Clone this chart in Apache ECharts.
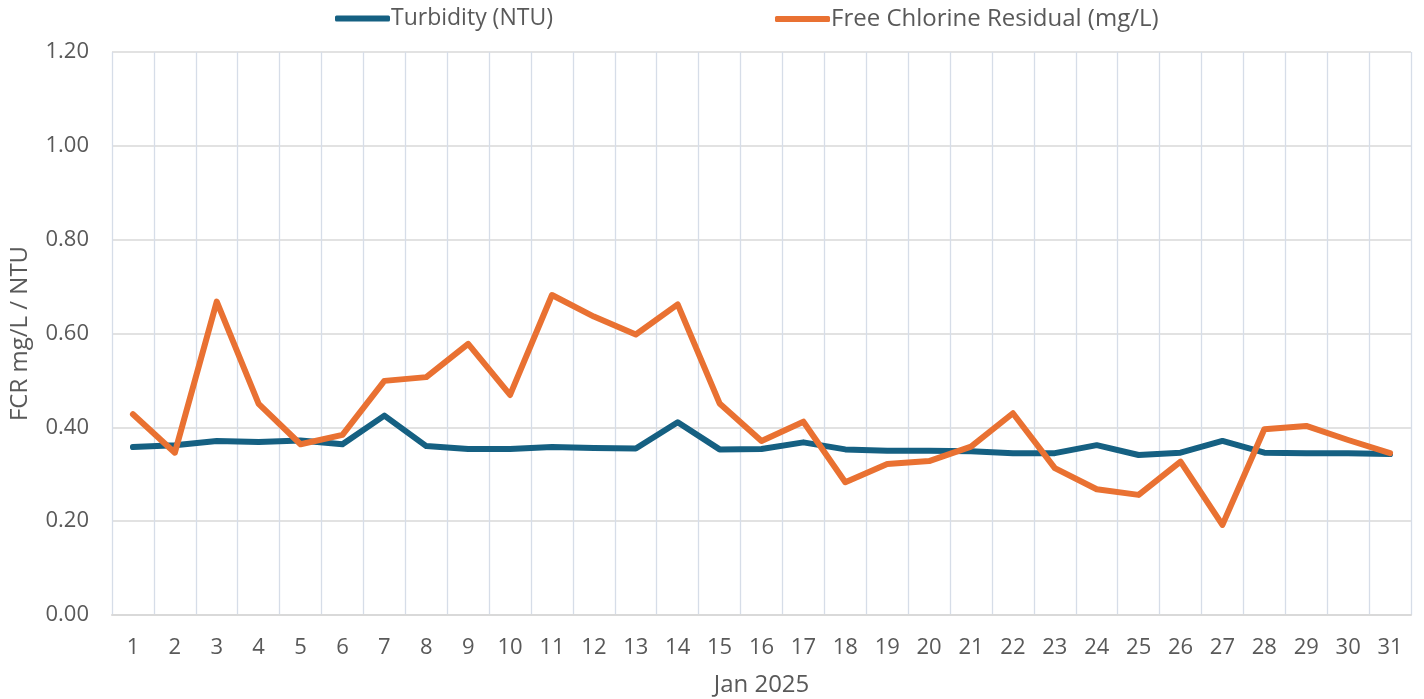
<!DOCTYPE html>
<html>
<head>
<meta charset="utf-8">
<script src="https://cdn.jsdelivr.net/npm/echarts@6/dist/echarts.min.js"></script>
<style>
html,body{margin:0;padding:0;background:#fff;}
#c{width:1424px;height:699px;}
</style>
</head>
<body>
<div id="c"></div>
<script>
const days = ['1','2','3','4','5','6','7','8','9','10','11','12','13','14','15','16','17','18','19','20','21','22','23','24','25','26','27','28','29','30','31'];
const turbidity = [0.358,0.362,0.371,0.369,0.372,0.364,0.425,0.360,0.354,0.354,0.358,0.356,0.355,0.411,0.353,0.354,0.368,0.353,0.350,0.350,0.349,0.345,0.345,0.362,0.341,0.346,0.371,0.346,0.345,0.345,0.343];
const chlorine = [0.428,0.346,0.668,0.450,0.364,0.384,0.499,0.507,0.578,0.469,0.682,0.636,0.598,0.662,0.451,0.371,0.412,0.283,0.322,0.328,0.359,0.430,0.313,0.268,0.256,0.327,0.192,0.396,0.403,0.373,0.345];
const seriesNames = ['Turbidity (NTU)','Free Chlorine Residual (mg/L)'];
const xTitle = 'Jan 2025';
const yTitle = 'FCR mg/L / NTU';

const chart = echarts.init(document.getElementById('c'));
const font = "'Open Sans', sans-serif";
const legendText = {fontSize:23,color:'#595959',fontFamily:"'Open Sans', sans-serif", padding:[0,0,0,-4]};
chart.setOption({
  animation:false,
  textStyle:{fontFamily:font},
  legend:[
    {top:2, left:330, itemWidth:55, itemHeight:6, icon:'roundRect', textStyle:legendText, data:[seriesNames[0]]},
    {top:2, left:770, itemWidth:55, itemHeight:6, icon:'roundRect', textStyle:Object.assign({}, legendText, {fontSize:24}), data:[seriesNames[1]]}
  ],
  grid:{left:112,right:13,top:52,bottom:84,outerBoundsMode:'none',containLabel:false},
  xAxis:{
    type:'category', data:days, boundaryGap:true,
    name:xTitle, nameLocation:'middle', nameGap:58,
    nameTextStyle:{fontSize:24,color:'#595959',fontFamily:font},
    axisLine:{lineStyle:{color:'#d9d9d9',width:2}},
    axisTick:{show:false},
    axisLabel:{fontSize:22,color:'#595959',margin:22,fontFamily:font},
    splitLine:{show:true,lineStyle:{color:'#d6dde8',width:1.3}}
  },
  yAxis:{
    type:'value', min:0, max:1.2, interval:0.2,
    name:yTitle, nameLocation:'middle', nameGap:80, nameRotate:90,
    nameTextStyle:{fontSize:24,color:'#595959',fontFamily:font},
    axisLine:{show:false}, axisTick:{show:false},
    axisLabel:{fontSize:22,color:'#595959',margin:23,fontFamily:font,formatter:v=>v.toFixed(2)},
    splitLine:{lineStyle:{color:'#d9d9d9',width:1.5}}
  },
  series:[
    {name:seriesNames[0],type:'line',data:turbidity,symbol:'none',
     lineStyle:{color:'#156082',width:6,cap:'round',join:'round'},itemStyle:{color:'#156082'}},
    {name:seriesNames[1],type:'line',data:chlorine,symbol:'none',
     lineStyle:{color:'#E97132',width:6,cap:'round',join:'round'},itemStyle:{color:'#E97132'}}
  ]
});
</script>
</body>
</html>
